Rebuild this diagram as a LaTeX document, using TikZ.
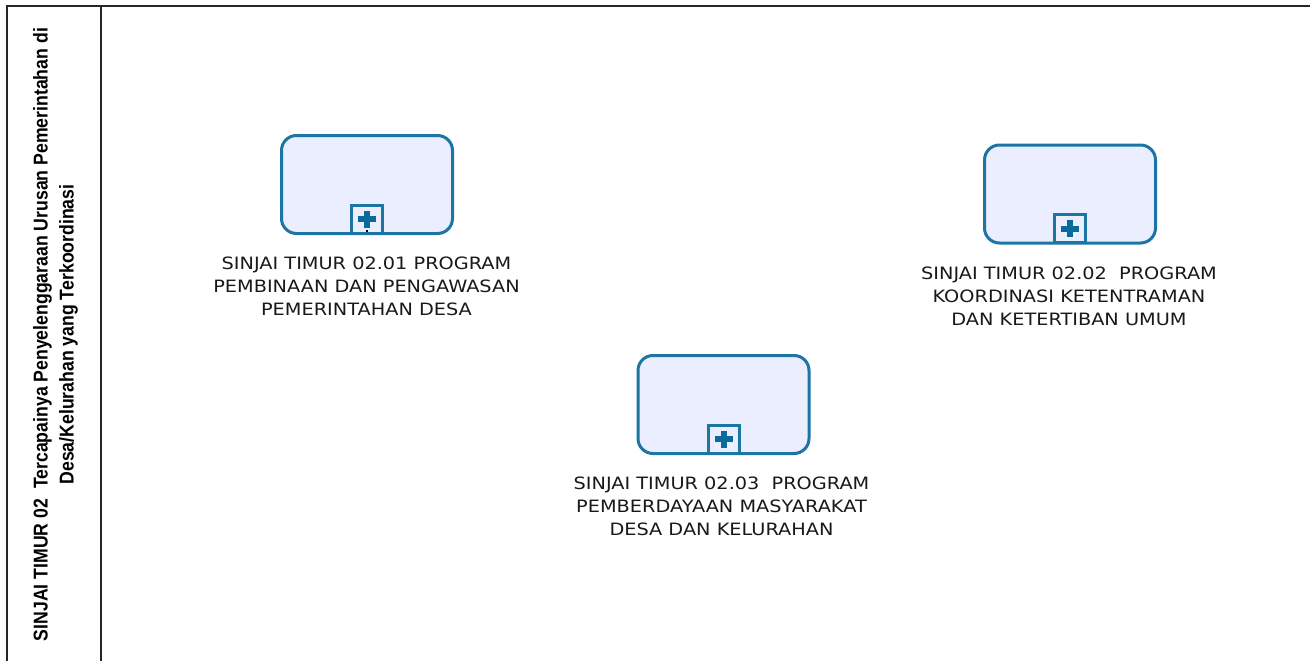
\documentclass[tikz,border=0pt]{standalone}
\usepackage{fontspec}
\setmainfont{DejaVu Sans}
\newfontfamily\lanefont{Liberation Sans}
\definecolor{taskblue}{HTML}{1C75A3}
\definecolor{taskfill}{HTML}{EAEEFE}
\definecolor{plusblue}{HTML}{0A6A9C}
\tikzset{
  x=1pt,y=-1pt,
  lane/.style={draw=black!85,line width=2pt},
  subtask/.style={draw=taskblue,fill=taskfill,line width=3pt,rounded corners=15pt,minimum width=171pt,minimum height=98pt,inner sep=0pt},
  marker/.style={draw=taskblue,fill=taskfill,line width=3pt,minimum width=31pt,minimum height=28pt,inner sep=0pt},
  tasklabel/.style={align=center,font=\fontsize{17}{23.2}\selectfont,text=black!90,inner sep=0pt,xscale=1.135},
  lanelabel/.style={rotate=90,align=center,font=\lanefont\bfseries\fontsize{20}{26}\selectfont,inner sep=0pt,xscale=0.883},
}
\newcommand{\plusmark}[1]{%
  \fill[plusblue] ([xshift=-9pt]#1.center) ++(0,-3) rectangle ++(18,6);
  \fill[plusblue] ([xshift=-3pt]#1.center) ++(0,-8.5) rectangle ++(6,17);
}
\begin{document}
\begin{tikzpicture}
\useasboundingbox (0,0) rectangle (1310,661);
\fill[white] (0,0) rectangle (1310,661);
\coordinate (tl) at (7,6);
\coordinate (tm) at (101,6);
\coordinate (tr) at (1310,6);
\coordinate (bl) at (7,661);
\coordinate (bm) at (101,661);
\draw[lane] (bl) -- (tl) -- (tr);
\draw[lane] (tm) -- (bm);
\node[lanelabel] (lanetext) at (55.5,334.5) {SINJAI TIMUR 02\ \ Tercapainya Penyelenggaraan Urusan Pemerintahan di\\Desa/Kelurahan yang Terkoordinasi};

\node[subtask] (a) at (367,184.5) {};
\node[marker] (am) at (367,219) {};
\plusmark{am}
\node[fill=black,inner sep=0pt,minimum size=2.5pt] (adot) at (367,231) {};
\node[tasklabel] (al) at (366.5,286.5) {SINJAI TIMUR 02.01 PROGRAM\\PEMBINAAN DAN PENGAWASAN\\PEMERINTAHAN DESA};

\node[subtask] (b) at (1070,194) {};
\node[marker] (bm2) at (1070,228.5) {};
\plusmark{bm2}
\node[tasklabel] (bl2) at (1069,296.5) {SINJAI TIMUR 02.02\ \ PROGRAM\\KOORDINASI KETENTRAMAN\\DAN KETERTIBAN UMUM};

\node[subtask] (c) at (723.5,404.5) {};
\node[marker] (cm) at (723.5,439) {};
\plusmark{cm}
\node[tasklabel] (cl) at (721.5,506.5) {SINJAI TIMUR 02.03\ \ PROGRAM\\PEMBERDAYAAN MASYARAKAT\\DESA DAN KELURAHAN};
\end{tikzpicture}
\end{document}
